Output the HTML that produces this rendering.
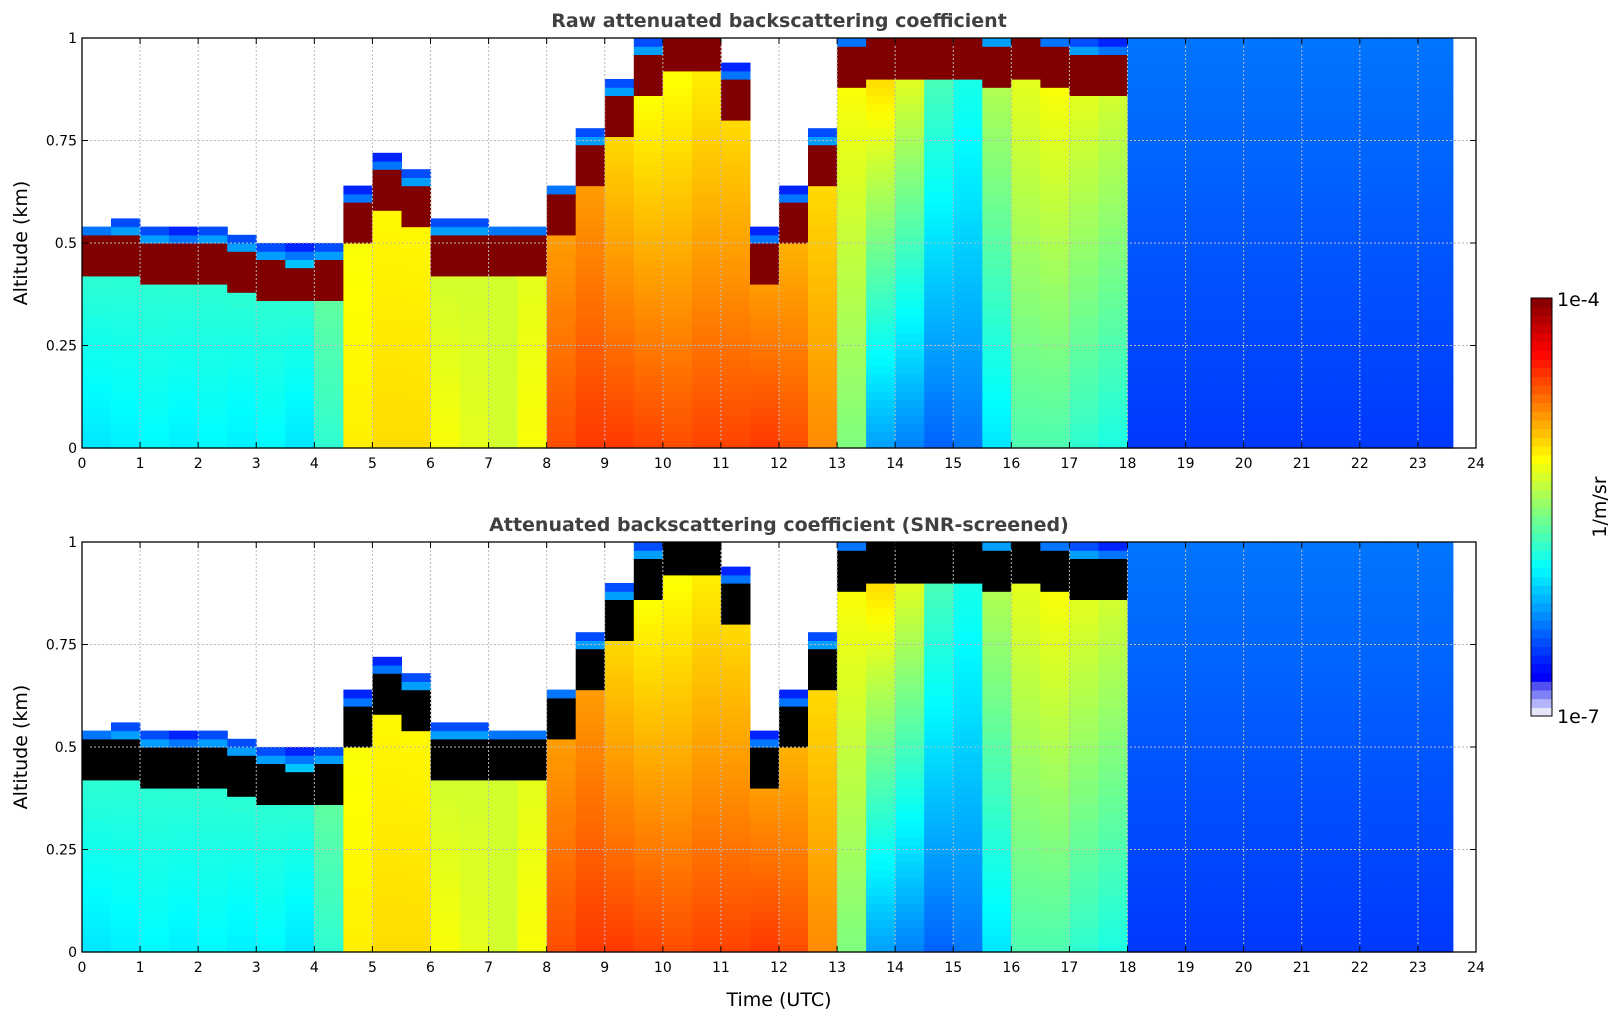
<!DOCTYPE html>
<html><head><meta charset="utf-8">
<style>
body{margin:0;background:#fff;width:1621px;height:1020px;overflow:hidden;font-family:"DejaVu Sans","Liberation Sans",sans-serif;}
svg text{font-family:"DejaVu Sans","Liberation Sans",sans-serif;}
</style></head>
<body>
<svg id="chart" width="1621" height="1020" xmlns="http://www.w3.org/2000/svg">
<text x="779" y="27" text-anchor="middle" font-size="19" font-weight="bold" fill="#404040">Raw attenuated backscattering coefficient</text>
<text x="779" y="531" text-anchor="middle" font-size="19" font-weight="bold" fill="#404040">Attenuated backscattering coefficient (SNR-screened)</text>
<text x="779" y="1006" text-anchor="middle" font-size="19" fill="#000">Time (UTC)</text>
<g id="plots"></g>
<g id="cbar"></g>
</svg>
<script>
// half-hour time bins, start hour
const times = [0,0.5,1,1.5,2,2.5,3,3.5,4,4.5,5,5.5,6,6.5,7,7.5,8,8.5,9,9.5,10,10.5,11,11.5,12,12.5,13,13.5,14,14.5,15,15.5,16,16.5,17,17.5,18,18.5,19,19.5,20,20.5,21,21.5,22,22.5,23,23.5];
// aerosol layer (band) altitude in km; -1 = no layer
const layerTop = [0.47,0.48,0.46,0.45,0.46,0.44,0.42,0.41,0.42,0.55,0.63,0.6,0.48,0.48,0.47,0.47,0.57,0.7,0.82,0.92,0.97,0.97,0.85,0.45,0.55,0.7,0.93,0.95,0.96,0.96,0.95,0.94,0.95,0.93,0.92,0.91,-1,-1,-1,-1,-1,-1,-1,-1,-1,-1,-1,-1];
// normalized colormap value near the surface (0..1 of jet)
const lowerValue = [0.35,0.36,0.37,0.36,0.37,0.36,0.37,0.35,0.42,0.64,0.66,0.66,0.62,0.6,0.58,0.62,0.8,0.82,0.82,0.81,0.8,0.81,0.81,0.82,0.8,0.74,0.5,0.28,0.25,0.22,0.24,0.35,0.45,0.45,0.42,0.4,0.18,0.18,0.18,0.18,0.18,0.18,0.18,0.18,0.18,0.18,0.18,0.18];
// normalized colormap value just below the layer
const upperValue = [0.42,0.42,0.42,0.42,0.42,0.42,0.42,0.42,0.47,0.62,0.63,0.63,0.58,0.58,0.58,0.6,0.72,0.72,0.66,0.62,0.62,0.64,0.66,0.72,0.7,0.66,0.62,0.66,0.6,0.45,0.4,0.55,0.6,0.62,0.6,0.58,0.24,0.24,0.24,0.24,0.24,0.24,0.24,0.24,0.24,0.24,0.24,0.24];
const dataEnd = 23.6;
const yTicks = [0,0.25,0.5,0.75,1];
const yTickLabels = ["0","0.25","0.5","0.75","1"];
const xTicks = [0,1,2,3,4,5,6,7,8,9,10,11,12,13,14,15,16,17,18,19,20,21,22,23,24];

const NS="http://www.w3.org/2000/svg";
const X0=82,X1=1476;
function xScale(t){return X0+(X1-X0)*t/24;}
function jet(v){
  v=Math.max(0,Math.min(1,v));
  const r=Math.min(4*v-1.5,-4*v+4.5),g=Math.min(4*v-0.5,-4*v+3.5),b=Math.min(4*v+0.5,-4*v+2.5);
  const c=x=>Math.round(255*Math.max(0,Math.min(1,x)));
  return `rgb(${c(r)},${c(g)},${c(b)})`;
}
function mk(tag,attrs,parent){const e=document.createElementNS(NS,tag);for(const k in attrs)e.setAttribute(k,attrs[k]);parent.appendChild(e);return e;}

const plots=document.getElementById('plots');
const nz=50;
function drawPlot(top,bottom,screened,name){
  const yScale=z=>bottom-(bottom-top)*z;
  const g=mk('g',{},plots);
  
  
  for(let i=0;i<times.length;i++){
    const t0=times[i],t1=Math.min(t0+0.5,dataEnd);
    const xa=xScale(t0),xb=xScale(t1);
    const h=layerTop[i],lv=lowerValue[i],uv=upperValue[i];
    for(let k=0;k<nz;k++){
      const z0=k/nz,z1=(k+1)/nz,zm=(z0+z1)/2;
      let col=null;
      if(h<0){ col=jet(lv+(uv-lv)*zm); }
      else if(zm<h-0.05){ const f=zm/Math.max(h-0.05,0.01); col=jet(lv+(uv-lv)*f); }
      else if(zm<=h+0.04){ col=screened?'#000':jet(1.0); }
      else if(zm<=h+0.08){ col=jet(0.32-(zm-h-0.04)*4); }
      else col=null;
      if(!col) continue;
      const r=mk('rect',{x:xa.toFixed(1),y:yScale(z1).toFixed(1),width:(xb-xa+0.6).toFixed(1),height:((bottom-top)/nz+0.6).toFixed(1),fill:col},g);
      
      
    }
  }
  for(const t of xTicks){ if(t>0&&t<24) mk('line',{x1:xScale(t),x2:xScale(t),y1:top,y2:bottom,stroke:'#bbb','stroke-dasharray':'2,2','stroke-width':1},g);}
  for(const z of yTicks){ if(z>0&&z<1) mk('line',{x1:X0,x2:X1,y1:yScale(z),y2:yScale(z),stroke:'#bbb','stroke-dasharray':'2,2','stroke-width':1},g);}
  const fr=mk('rect',{x:X0,y:top,width:X1-X0,height:bottom-top,fill:'none',stroke:'#000','stroke-width':1.3},g);
  
  
  xTicks.forEach(t=>{
    const x=xScale(t);
    mk('line',{x1:x,x2:x,y1:bottom,y2:bottom-6,stroke:'#000'},g);
    mk('line',{x1:x,x2:x,y1:top,y2:top+6,stroke:'#000'},g);
    const tx=mk('text',{x:x,y:bottom+20,'text-anchor':'middle','font-size':14},g);
    tx.textContent=t;
    
    
  });
  yTicks.forEach((z,j)=>{
    const y=yScale(z);
    mk('line',{x1:X0,x2:X0+6,y1:y,y2:y,stroke:'#000'},g);
    mk('line',{x1:X1,x2:X1-6,y1:y,y2:y,stroke:'#000'},g);
    const ty=mk('text',{x:X0-5,y:y+5,'text-anchor':'end','font-size':14},g);
    ty.textContent=yTickLabels[j];
    
    
  });
  const yl=mk('text',{x:0,y:0,transform:`translate(27,${(top+bottom)/2}) rotate(-90)`,'text-anchor':'middle','font-size':19},g);
  yl.textContent='Altitude (km)';
  
  
}
drawPlot(38,448,false,'raw-backscatter-heatmap');
drawPlot(542,952,true,'screened-backscatter-heatmap');

const cb=document.getElementById('cbar');
const cTop=298,cBot=716,cx=1531,cw=21,nb=48;
for(let k=0;k<nb;k++){
  const v=(k+0.5)/nb;
  let col;
  if(k<4){ col=['#e6e6fa','#b4b4fa','#8080f5','#5050f0'][k]; }
  else col=jet(0.11+(v-4/nb)/(1-4/nb)*0.89);
  const y1=cBot-(cBot-cTop)*(k+1)/nb;
  const r=mk('rect',{x:cx,y:y1.toFixed(1),width:cw,height:((cBot-cTop)/nb+0.6).toFixed(1),fill:col},cb);
  
  
}
mk('rect',{x:cx,y:cTop,width:cw,height:cBot-cTop,fill:'none',stroke:'#000','stroke-width':1},cb);
const l1=mk('text',{x:1557,y:306,'font-size':19},cb);l1.textContent='1e-4';


const l2=mk('text',{x:1557,y:723,'font-size':19},cb);l2.textContent='1e-7';


const l3=mk('text',{x:0,y:0,transform:'translate(1606,507) rotate(-90)','text-anchor':'middle','font-size':19},cb);l3.textContent='1/m/sr';


</script>
</body></html>
